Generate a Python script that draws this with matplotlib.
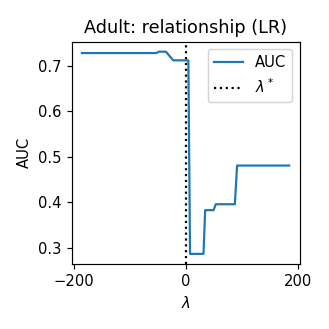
import matplotlib
matplotlib.use("Agg")
import matplotlib.pyplot as plt

lam = [-185, -52, -48, -35, -22, 5, 8, 32, 35, 50, 54, 88, 92, 185]
auc = [0.728, 0.728, 0.731, 0.731, 0.712, 0.712, 0.287, 0.287, 0.383, 0.383, 0.396, 0.396, 0.481, 0.481]
lam_star = 0

dpi = 106
fig = plt.figure(figsize=(329 / dpi, 329 / dpi), dpi=dpi)
ax = fig.add_axes([0.2175, 0.1976, 0.693, 0.676])
ax.plot(lam, auc, color="#1f77b4", label="AUC")
ax.axvline(lam_star, color="black", linestyle=":", label=r"$\lambda^*$")
ax.set_xlabel(r"$\lambda$")
ax.set_ylabel("AUC")
ax.set_title("Adult: relationship (LR)")
ax.set_xticks([-200, 0, 200])
ax.legend(loc="upper right")
fig.savefig("out.png", dpi=dpi)
